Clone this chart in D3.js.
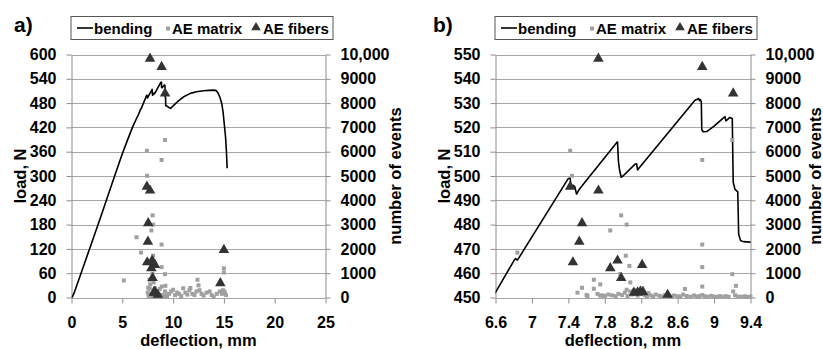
<!DOCTYPE html>
<html>
<head>
<meta charset="utf-8">
<script src="https://cdn.jsdelivr.net/npm/d3@7"></script>
<style>
  body { margin: 0; background: #fff; }
  svg { display: block; font-family: "Liberation Sans", Arial, sans-serif; font-weight: bold; }
</style>
</head>
<body>
<svg id="chart" width="823" height="349"></svg>
<script>
// ============= Data =============

// bending curve: [deflection mm, load N]
const bending = [
  [0, 0], [0.1, 2], [0.3, 14], [1, 64], [2, 136], [3, 208], [4, 282], [5, 355],
  [5.5, 388], [6, 420], [6.4, 442], [6.6, 452.1], [6.8, 465.0], [6.82, 466.0],
  [6.84, 465.4], [6.86, 466.5], [7.4, 499.0], [7.42, 499.1],
  [7.43, 495.5], [7.45, 496.2], [7.47, 495.6], [7.49, 492.6], [7.52, 494.5],
  [7.93, 513.7], [7.94, 514.0], [7.95, 506.0], [7.96, 503.0], [7.98, 499.5],
  [8.0, 500.0], [8.13, 504.8], [8.15, 505.0], [8.16, 502.5], [8.17, 503.0],
  [8.79, 531.2], [8.81, 531.5], [8.83, 531.9], [8.84, 531.0], [8.85, 531.4],
  [8.86, 530.5], [8.865, 519.0], [8.88, 518.2], [8.92, 518.3], [9.0, 520.5],
  [9.1, 523.8], [9.12, 524.4], [9.13, 522.7], [9.15, 523.3], [9.17, 524.1],
  [9.2, 523.7], [9.205, 510], [9.21, 497.5], [9.23, 494.5], [9.26, 493.5],
  [9.265, 485], [9.27, 476], [9.29, 473.5], [9.32, 473], [9.4, 472.8],
  [9.6, 469], [9.75, 467], [10, 473], [10.5, 485], [11, 495], [11.7, 504],
  [12.3, 508], [13, 510.5], [13.5, 511.5], [14, 512], [14.2, 511.5], [14.4, 506],
  [14.6, 495], [14.8, 478], [14.93, 455], [15.05, 425], [15.16, 397],
  [15.25, 360], [15.32, 319],
];

// AE matrix events: [deflection mm, number of events]
const aeMatrix = [
  [5.15, 700], [6.4, 2480], [6.84, 1850], [7.42, 6040], [7.44, 5010], [7.86, 2760],
  [7.98, 3380], [8.04, 3000], [8.03, 1720], [8.07, 1300], [7.97, 970], [8.87, 5660],
  [9.2, 6480], [8.87, 2180], [8.87, 1250], [9.2, 960], [9.24, 480], [8.87, 450],
  [7.68, 730], [7.68, 360], [7.75, 540], [7.61, 60], [8.08, 620], [8.04, 320],
  [8.21, 380], [7.5, 200], [7.55, 400], [7.6, 100], [7.75, 80], [7.79, 80],
  [7.72, 150], [7.76, 80], [7.8, 60], [7.84, 120], [7.88, 90], [7.92, 60],
  [7.95, 150], [7.99, 100], [8.02, 200], [8.05, 60], [8.08, 250], [8.1, 120],
  [8.12, 300], [8.14, 180], [8.16, 80], [8.18, 220], [8.2, 140], [8.22, 260],
  [8.24, 100], [8.26, 60], [8.28, 180], [8.3, 90], [8.33, 50], [8.36, 120],
  [8.4, 70], [8.43, 40], [8.46, 90], [8.5, 60], [8.53, 30], [8.56, 80],
  [8.6, 50], [8.63, 40], [8.66, 120], [8.68, 350], [8.7, 60], [8.74, 30],
  [8.78, 80], [8.81, 40], [8.84, 60], [8.87, 100], [8.9, 50], [8.93, 30],
  [8.97, 70], [9.0, 40], [9.03, 20], [9.06, 60], [9.1, 30], [9.13, 50],
  [9.16, 30], [9.21, 250], [9.23, 90], [9.26, 40], [9.3, 30], [9.34, 50],
  [9.38, 20], [9.4, 40],
  [9.6, 150], [9.8, 250], [10.0, 320], [10.2, 100], [10.4, 200], [10.6, 150],
  [10.8, 60], [11.0, 380], [11.2, 200], [11.4, 120], [11.6, 300], [11.7, 390],
  [11.9, 150], [12.1, 100], [12.3, 250], [12.4, 730], [12.5, 500], [12.6, 300],
  [12.8, 150], [13.0, 80], [13.3, 200], [13.6, 250], [13.8, 100], [14.0, 20],
  [14.3, 150], [14.6, 250], [14.8, 150], [14.9, 300], [15.0, 1200], [15.0, 1030],
  [15.0, 250], [15.1, 200], [15.2, 100],
];

// AE fibers events: [deflection mm, number of events]
const aeFibers = [
  [7.73, 9830], [8.87, 9490], [9.21, 8400], [7.42, 4560], [7.73, 4400],
  [7.55, 3060], [7.52, 2300], [7.45, 1450], [7.86, 1210], [7.94, 1520],
  [7.98, 800], [8.21, 1340], [8.16, 210], [8.19, 240], [8.12, 200],
  [8.22, 220], [8.49, 110], [15.0, 1960], [14.65, 590],
];

const deflectionTicksA = [0, 5, 10, 15, 20, 25];
const deflectionTicksB = [6.6, 7, 7.4, 7.8, 8.2, 8.6, 9, 9.4];
const loadTicksA = [0, 60, 120, 180, 240, 300, 360, 420, 480, 540, 600];
const loadTicksB = [450, 460, 470, 480, 490, 500, 510, 520, 530, 540, 550];
const eventTicks = [0, 1000, 2000, 3000, 4000, 5000, 6000, 7000, 8000, 9000, 10000];
const legendLabels = ["bending", "AE matrix", "AE fibers"];

// ============= Layout =============

const PLOT_TOP = 54.5;
const PLOT_BOTTOM = 297.5;
const GRID_COLOR = "#a6a6a6";
const AXIS_COLOR = "#8c8c8c";
const MATRIX_COLOR = "#a0a0a0";
const FIBER_COLOR = "#333333";

const panels = [
  {
    id: "a", label: "a)", labelX: 14, left: 71.5, right: 325.5,
    xTicks: deflectionTicksA, yTicks: loadTicksA, eventsTitleX: 401,
  },
  {
    id: "b", label: "b)", labelX: 433, left: 495.5, right: 750.5,
    xTicks: deflectionTicksB, yTicks: loadTicksB, eventsTitleX: 821,
  },
];

const formatEvents = (d) => (d >= 10000 ? d3.format(",")(d) : String(d));
const formatDeflection = d3.format("~g");

const styleAxis = (axis) => {
  axis.selectAll("path, line").attr("stroke", AXIS_COLOR);
  axis.selectAll("text")
    .style("font-size", "16px")
    .style("font-weight", "bold")
    .style("font-family", "Liberation Sans, Arial, sans-serif")
    .attr("fill", "#000");
};

const drawPanel = (svg, cfg) => {
  const xDomain = d3.extent(cfg.xTicks);
  const yDomain = d3.extent(cfg.yTicks);
  const xScale = d3.scaleLinear().domain(xDomain).range([cfg.left, cfg.right]);
  const yScale = d3.scaleLinear().domain(yDomain).range([PLOT_BOTTOM, PLOT_TOP]);
  const eScale = d3.scaleLinear().domain(d3.extent(eventTicks)).range([PLOT_BOTTOM, PLOT_TOP]);

  const g = svg.append("g").attr("class", `panel-${cfg.id}`);

  // grid lines
  g.selectAll(".grid-line")
    .data(cfg.yTicks)
    .enter()
    .append("line")
    .attr("class", "grid-line")
    .attr("x1", cfg.left)
    .attr("x2", cfg.right)
    .attr("y1", (d) => Math.round(yScale(d)) + 0.5)
    .attr("y2", (d) => Math.round(yScale(d)) + 0.5)
    .attr("stroke", GRID_COLOR)
    .attr("stroke-width", 1);

  // axes
  const xAxis = g.append("g")
    .attr("transform", `translate(0,${Math.round(PLOT_BOTTOM) + 0.5})`)
    .call(d3.axisBottom(xScale).tickValues(cfg.xTicks).tickFormat(formatDeflection)
      .tickSize(5).tickSizeOuter(0).tickPadding(13));
  xAxis.select(".domain").remove();

  const yAxis = g.append("g")
    .attr("transform", `translate(${cfg.left},0)`)
    .call(d3.axisLeft(yScale).tickValues(cfg.yTicks).tickSize(5).tickSizeOuter(0).tickPadding(10));

  const eAxis = g.append("g")
    .attr("transform", `translate(${cfg.right},0)`)
    .call(d3.axisRight(eScale).tickValues(eventTicks).tickFormat(formatEvents)
      .tickSize(5).tickSizeOuter(0).tickPadding(10));

  [xAxis, yAxis, eAxis].forEach(styleAxis);

  // bending line, clipped to the plot area
  const clipId = `clip-${cfg.id}`;
  svg.append("clipPath").attr("id", clipId)
    .append("rect")
    .attr("x", cfg.left)
    .attr("y", PLOT_TOP - 1)
    .attr("width", cfg.right - cfg.left)
    .attr("height", PLOT_BOTTOM - PLOT_TOP + 2);

  const line = d3.line().x((d) => xScale(d[0])).y((d) => yScale(d[1]));
  g.append("path")
    .datum(bending)
    .attr("clip-path", `url(#${clipId})`)
    .attr("d", line)
    .attr("fill", "none")
    .attr("stroke", "#000")
    .attr("stroke-width", 1.6)
    .attr("stroke-linejoin", "round");

  const inRange = (d) => d[0] >= xDomain[0] - 0.001 && d[0] <= xDomain[1] + 0.001;

  // AE matrix squares
  g.selectAll(".matrix")
    .data(aeMatrix.filter(inRange))
    .enter()
    .append("path")
    .attr("class", "matrix")
    .attr("d", d3.symbol(d3.symbolSquare, 16))
    .attr("transform", (d) => `translate(${xScale(d[0])},${eScale(d[1])})`)
    .attr("fill", MATRIX_COLOR);

  // AE fibers triangles
  g.selectAll(".fiber")
    .data(aeFibers.filter(inRange))
    .enter()
    .append("path")
    .attr("class", "fiber")
    .attr("d", d3.symbol(d3.symbolTriangle, 48))
    .attr("transform", (d) => `translate(${xScale(d[0])},${eScale(d[1])})`)
    .attr("fill", FIBER_COLOR);

  // titles
  g.append("text")
    .attr("x", (cfg.left + cfg.right) / 2)
    .attr("y", 346)
    .attr("text-anchor", "middle")
    .style("font-size", "16.5px")
    .text("deflection, mm");

  const midY = (PLOT_TOP + PLOT_BOTTOM) / 2;
  g.append("text")
    .attr("transform", `translate(${cfg.left - 45.5},${midY}) rotate(-90)`)
    .attr("text-anchor", "middle")
    .style("font-size", "16.5px")
    .text("load, N");

  g.append("text")
    .attr("transform", `translate(${cfg.eventsTitleX},${midY}) rotate(-90)`)
    .attr("text-anchor", "middle")
    .style("font-size", "16.5px")
    .text("number of events");

  g.append("text")
    .attr("x", cfg.labelX)
    .attr("y", 32)
    .style("font-size", "21px")
    .text(cfg.label);

  // legend
  const lx = cfg.left - 0.5;
  const legend = g.append("g").attr("transform", `translate(${lx},16.5)`);
  legend.append("rect")
    .attr("width", 262)
    .attr("height", 23)
    .attr("fill", "#fff")
    .attr("stroke", "#555")
    .attr("stroke-width", 1);

  legend.append("line")
    .attr("x1", 6).attr("x2", 22)
    .attr("y1", 11.5).attr("y2", 11.5)
    .attr("stroke", "#000").attr("stroke-width", 1.6);
  legend.append("path")
    .attr("d", d3.symbol(d3.symbolSquare, 16))
    .attr("transform", "translate(97,12)")
    .attr("fill", MATRIX_COLOR);
  legend.append("path")
    .attr("d", d3.symbol(d3.symbolTriangle, 40))
    .attr("transform", "translate(185,11)")
    .attr("fill", FIBER_COLOR);

  [23, 101, 192].forEach((x, i) => {
    legend.append("text")
      .attr("x", x)
      .attr("y", 17)
      .style("font-size", "15px")
      .text(legendLabels[i]);
  });
};

const svg = d3.select("#chart");
svg.append("rect").attr("width", 823).attr("height", 349).attr("fill", "#fff");
panels.forEach((cfg) => drawPanel(svg, cfg));
</script>
</body>
</html>
